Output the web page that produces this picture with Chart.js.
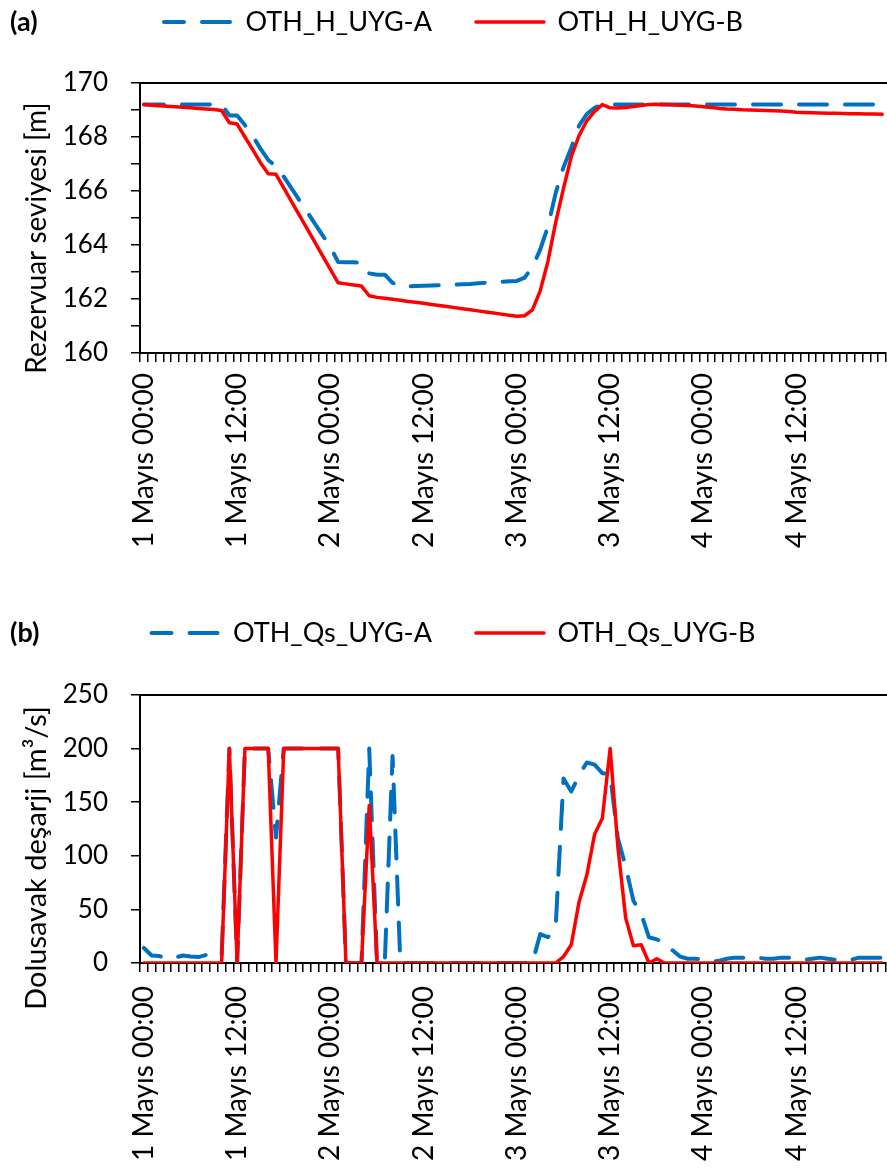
<!DOCTYPE html>
<html>
<head>
<meta charset="utf-8">
<script src="https://cdn.jsdelivr.net/npm/chart.js@4.4.1/dist/chart.umd.min.js"></script>
<style>
  html, body { margin: 0; padding: 0; background: #ffffff; }
  body { width: 887px; height: 1169px; overflow: hidden; }
  canvas { display: block; }
</style>
</head>
<body>
<canvas id="levelChart" width="887" height="585"></canvas>
<canvas id="spillChart" width="887" height="584"></canvas>
<script>
// Day / hour parts of the hourly time axis (1–4 Mayıs, 96 hourly steps)
const days = ['1', '2', '3', '4'];
const hoursOfDay = ['00', '01', '02', '03', '04', '05', '06', '07', '08', '09', '10', '11',
                    '12', '13', '14', '15', '16', '17', '18', '19', '20', '21', '22', '23'];
const labelEvery = 12;

// Reservoir level [m], scenario A and B
const levelA = [
  169.2, 169.2, 169.2, 169.2, 169.2, 169.2, 169.2, 169.2, 169.2, 169.2, 169.2,
  168.8, 168.8, 168.44, 168.04, 167.57, 167.15, 166.91, 166.53, 166.1, 165.66,
  165.23, 164.79, 164.36, 163.92, 163.37, 163.36, 163.36, 163.35, 162.95, 162.9,
  162.9, 162.6, 162.46, 162.47, 162.48, 162.49, 162.5, 162.51, 162.52, 162.53,
  162.55, 162.56, 162.58, 162.6, 162.62, 162.64, 162.66, 162.67, 162.79, 163.18,
  163.83, 164.69, 165.93, 166.88, 167.6, 168.42, 168.85, 169.08, 169.2,
  169.2, 169.2, 169.2, 169.2, 169.2, 169.2, 169.2, 169.2, 169.2, 169.2, 169.2, 169.2,
  169.2, 169.2, 169.2, 169.2, 169.2, 169.2, 169.2, 169.2, 169.2, 169.2, 169.2, 169.2,
  169.2, 169.2, 169.2, 169.2, 169.2, 169.2, 169.2, 169.2, 169.2, 169.2, 169.2, 169.2
];
const levelB = [
  169.2, 169.18, 169.16, 169.14, 169.12, 169.1, 169.08, 169.06, 169.04, 169.02, 168.98,
  168.53, 168.48, 168.0, 167.53, 167.05, 166.64, 166.62, 166.12, 165.61, 165.11,
  164.61, 164.11, 163.6, 163.1, 162.6, 162.56, 162.52, 162.48, 162.12, 162.06,
  162.03, 161.99, 161.95, 161.91, 161.88, 161.84, 161.8, 161.76, 161.72, 161.68,
  161.64, 161.6, 161.56, 161.52, 161.48, 161.44, 161.4, 161.36, 161.38, 161.6,
  162.3, 163.4, 164.85, 166.1, 167.27, 168.05, 168.6, 168.95, 169.2, 169.08,
  169.07, 169.09, 169.13, 169.17, 169.2, 169.21, 169.2, 169.19, 169.18, 169.17,
  169.15, 169.12, 169.09, 169.06, 169.04, 169.03, 169.01, 169.0, 168.99, 168.98,
  168.97, 168.96, 168.94, 168.92, 168.91, 168.9, 168.89, 168.88, 168.88, 168.87,
  168.86, 168.86, 168.85, 168.85, 168.84
];

// Spillway discharge [m³/s], scenario A and B
const spillA = [
  14, 7, 6.5, 4, 5, 7, 6, 5.5, 7.5, 7, 6,
  200, 0, 200, 200, 200, 200, 117, 200, 200, 200,
  200, 200, 200, 200, 200, 0, 0, 0, 200, 0,
  0, 193, 0, 0, 0, 0, 0, 0, 0, 0,
  0, 0, 0, 0, 0, 0, 0, 0, 0, 0,
  27, 24, 35, 172, 160, 175, 187, 185, 177, 176,
  116, 90, 58, 46, 24, 22, 19, 12, 6, 4,
  4, 3, 1, 2, 4, 5, 5, 5, 5, 4,
  4, 5, 5, 4, 3, 4, 5, 4, 3, 3,
  3, 5, 5, 5, 5
];
const spillB = [
  0, 0, 0, 0, 0, 0, 0, 0, 0, 0, 0,
  200, 0, 200, 200, 200, 200, 0, 200, 200, 200,
  200, 200, 200, 200, 200, 0, 0, 0, 147, 0,
  0, 0, 0, 0, 0, 0, 0, 0, 0, 0,
  0, 0, 0, 0, 0, 0, 0, 0, 0, 0,
  0, 0, 0, 6, 17, 57, 82, 120, 135, 200,
  108, 42, 16, 17, 0, 4, 0, 0, 0, 0,
  0, 0, 0, 0, 0, 0, 0, 0, 0, 0,
  0, 0, 0, 0, 0, 0, 0, 0, 0, 0,
  0, 0, 0, 0, 0
];

const hourLabels = [];
days.forEach(d => hoursOfDay.forEach(h => hourLabels.push(d + ' Mayıs ' + h + ':00')));

const FONT = 'Lato';
const BLUE = '#0070C0';
const RED = '#FF0000';
const INK = '#000000';

Chart.defaults.font.family = FONT;
Chart.defaults.color = INK;

// Panel tag "(a)/(b)" and the rotated value-axis title
const panelText = {
  id: 'panelText',
  afterDraw(chart, args, o) {
    const ctx = chart.ctx;
    ctx.save();
    ctx.fillStyle = INK;
    ctx.textBaseline = 'middle';
    ctx.textAlign = 'left';
    ctx.font = 'bold ' + o.tagSize + 'px ' + FONT;
    ctx.fillText(o.tag, o.tagX, o.tagY);
    ctx.font = o.titleSize + 'px ' + FONT;
    ctx.translate(o.titleX, o.titleY);
    ctx.rotate(-Math.PI / 2);
    ctx.textAlign = 'center';
    ctx.fillText(o.title, 0, 0);
    ctx.restore();
  }
};

// Legend entries drawn as short line samples that keep each series' dash pattern
function lineLegendLabels(chart) {
  const items = Chart.defaults.plugins.legend.labels.generateLabels(chart);
  items.forEach(it => {
    const ds = chart.data.datasets[it.datasetIndex];
    it.pointStyle = 'line';
    it.lineDash = ds.borderDash || [];
    it.lineDashOffset = ds.borderDashOffset || 0;
    it.lineWidth = ds.borderWidth;
    it.strokeStyle = ds.borderColor;
    it.fillStyle = ds.borderColor;
    it.lineCap = ds.borderCapStyle;
  });
  return items.sort((m, n) => m.datasetIndex - n.datasetIndex);
}

const PLOT_LEFT = 140;
const PAD_LEFT = 21;

function buildChart(id, p) {
  const canvas = document.getElementById(id);
  const H = canvas.height;
  return new Chart(canvas, {
    type: 'line',
    data: {
      labels: hourLabels,
      datasets: [
        {
          label: p.names[0], data: p.a, xAxisID: 'x', yAxisID: 'y',
          borderColor: BLUE, backgroundColor: BLUE, borderWidth: 4,
          borderDash: [28, 18], borderDashOffset: 8,
          borderCapStyle: 'round', borderJoinStyle: 'round',
          pointRadius: 0, tension: 0, fill: false, order: 2
        },
        {
          label: p.names[1], data: p.b, xAxisID: 'x', yAxisID: 'y',
          borderColor: RED, backgroundColor: RED, borderWidth: 3.5,
          borderCapStyle: 'round', borderJoinStyle: 'round',
          pointRadius: 0, tension: 0, fill: false, order: 1
        }
      ]
    },
    options: {
      responsive: false,
      animation: false,
      devicePixelRatio: 1,
      events: [],
      layout: { padding: { left: PAD_LEFT, right: 1, top: p.padTop, bottom: 0 } },
      plugins: {
        legend: {
          position: 'top',
          align: 'center',
          labels: {
            usePointStyle: true,
            pointStyle: 'line',
            pointStyleWidth: 68,
            padding: 44,
            color: INK,
            font: { size: 27 },
            generateLabels: lineLegendLabels
          }
        },
        tooltip: { enabled: false },
        panelText: p.text
      },
      scales: {
        x: {
          type: 'category',
          position: 'bottom',
          offset: true,
          grid: {
            offset: true, drawOnChartArea: false, drawTicks: true,
            tickLength: 9, tickColor: INK, tickWidth: 1.5, lineWidth: 1.5
          },
          border: { display: true, color: INK, width: 2 },
          ticks: {
            autoSkip: false, minRotation: 90, maxRotation: 90,
            padding: p.xPad, color: INK, font: { size: 28 },
            callback: (v, i) => (i % labelEvery === 0 ? hourLabels[i] : '')
          },
          afterFit: s => {
            s.height = H - p.bottom;
            s.paddingLeft = 0;
            s.paddingRight = 0;
          }
        },
        x2: {
          type: 'category',
          position: 'top',
          offset: true,
          grid: { drawOnChartArea: false, drawTicks: false },
          border: { display: true, color: INK, width: 2 },
          ticks: { display: false },
          afterFit: s => {
            s.height = p.topGap;
            s.paddingLeft = 0;
            s.paddingRight = 0;
          }
        },
        y: {
          min: p.yMin, max: p.yMax,
          grid: {
            drawOnChartArea: false, drawTicks: true,
            tickLength: 9, tickColor: INK, tickWidth: 1.5, lineWidth: 1.5
          },
          border: { display: true, color: INK, width: 2 },
          ticks: {
            stepSize: p.yStep, autoSkip: false, padding: 23, color: INK,
            font: { size: 26 },
            callback: v => (v % p.yLabelStep === 0 ? v : '')
          },
          afterFit: s => { s.width = PLOT_LEFT - PAD_LEFT; }
        }
      }
    },
    plugins: [panelText]
  });
}

buildChart('levelChart', {
  names: ['OTH_H_UYG-A', 'OTH_H_UYG-B'],
  a: levelA, b: levelB,
  yMin: 160, yMax: 170, yStep: 1, yLabelStep: 2,
  padTop: -35.5, topGap: 37.5, bottom: 353, xPad: 11,
  text: { tag: '(a)', tagX: 10, tagY: 22, tagSize: 27,
          title: 'Rezervuar seviyesi [m]', titleX: 37, titleY: 238, titleSize: 28 }
});

buildChart('spillChart', {
  names: ['OTH_Qs_UYG-A', 'OTH_Qs_UYG-B'],
  a: spillA, b: spillB,
  yMin: 0, yMax: 250, yStep: 50, yLabelStep: 50,
  padTop: -9.5, topGap: 38.5, bottom: 378, xPad: 14,
  text: { tag: '(b)', tagX: 10, tagY: 48, tagSize: 27,
          title: 'Dolusavak deşarji [m³/s]', titleX: 37, titleY: 273, titleSize: 29 }
});
</script>
</body>
</html>
